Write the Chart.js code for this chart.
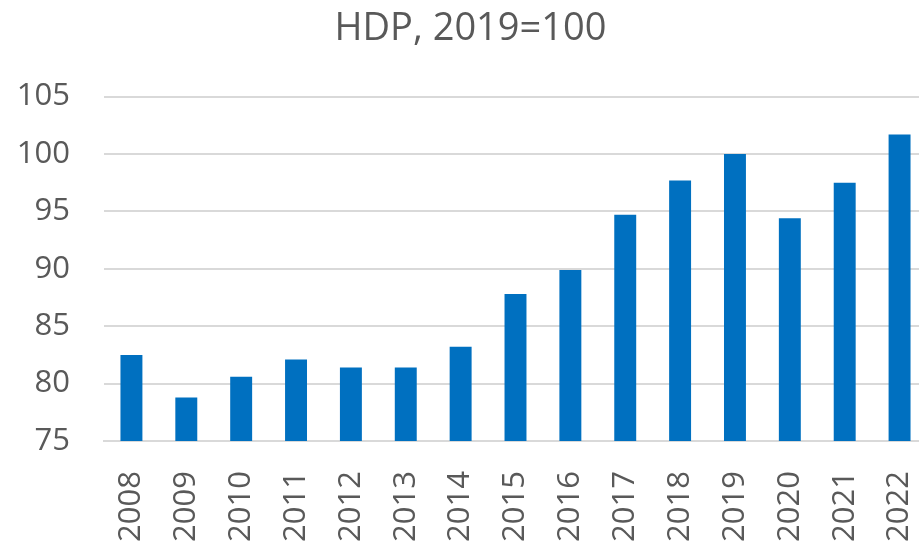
<!DOCTYPE html>
<html>
<head>
<meta charset="utf-8">
<script src="https://cdn.jsdelivr.net/npm/chart.js@4.4.0/dist/chart.umd.min.js"></script>
<style>
    html, body { margin: 0; padding: 0; overflow: hidden; background: #fff; }
    #wrap { width: 930px; height: 542px; }
</style>
</head>
<body>
<div id="wrap"><canvas id="chart"></canvas></div>
<script>
// HDP index, 2019 = 100
const years = ["2008", "2009", "2010", "2011", "2012", "2013", "2014", "2015",
               "2016", "2017", "2018", "2019", "2020", "2021", "2022"];
const hdp = [82.5, 78.8, 80.6, 82.1, 81.4, 81.4, 83.2, 87.8,
             89.9, 94.7, 97.7, 100.0, 94.4, 97.5, 101.7];
const yTicks = [75, 80, 85, 90, 95, 100, 105];

const textColor = "#595959";
const gridColor = "#d9d9d9";

new Chart(document.getElementById("chart"), {
    type: "bar",
    data: {
        labels: years,
        datasets: [{
            label: "HDP",
            data: hdp,
            backgroundColor: "#0070C0",
            borderWidth: 0,
            barPercentage: 0.4,
            categoryPercentage: 1.0,
        }],
    },
    options: {
        responsive: true,
        maintainAspectRatio: false,
        animation: false,
        layout: {
            padding: { left: 14, right: 3, top: 4, bottom: 0 },
        },
        scales: {
            x: {
                grid: { display: false, drawTicks: false },
                border: { display: true, color: gridColor, width: 2 },
                ticks: {
                    color: textColor,
                    font: { family: "Open Sans", size: 31 },
                    maxRotation: 90,
                    minRotation: 90,
                    padding: 30,
                    autoSkip: false,
                },
                // keep the plot area where the original one is
                afterFit: (scale) => {
                    scale.height = 101;
                    scale.paddingLeft = 0;
                    scale.paddingRight = 0;
                },
            },
            y: {
                min: yTicks[0],
                max: yTicks[yTicks.length - 1],
                afterBuildTicks: (axis) => {
                    axis.ticks = yTicks.map(v => ({ value: v }));
                },
                grid: { color: gridColor, lineWidth: 2, drawTicks: false },
                border: { display: false },
                ticks: {
                    color: textColor,
                    font: { family: "Open Sans", size: 31 },
                    padding: 34,
                },
                afterFit: (scale) => {
                    scale.width = 90;
                    scale.paddingTop = 0;
                    scale.paddingBottom = 0;
                },
            },
        },
        plugins: {
            legend: { display: false },
            tooltip: { enabled: false },
            title: {
                display: true,
                text: "HDP, 2019=100",
                color: textColor,
                font: { family: "Open Sans", size: 38, weight: "normal" },
                padding: { top: 2, bottom: 45 },
            },
        },
    },
});
</script>
</body>
</html>
